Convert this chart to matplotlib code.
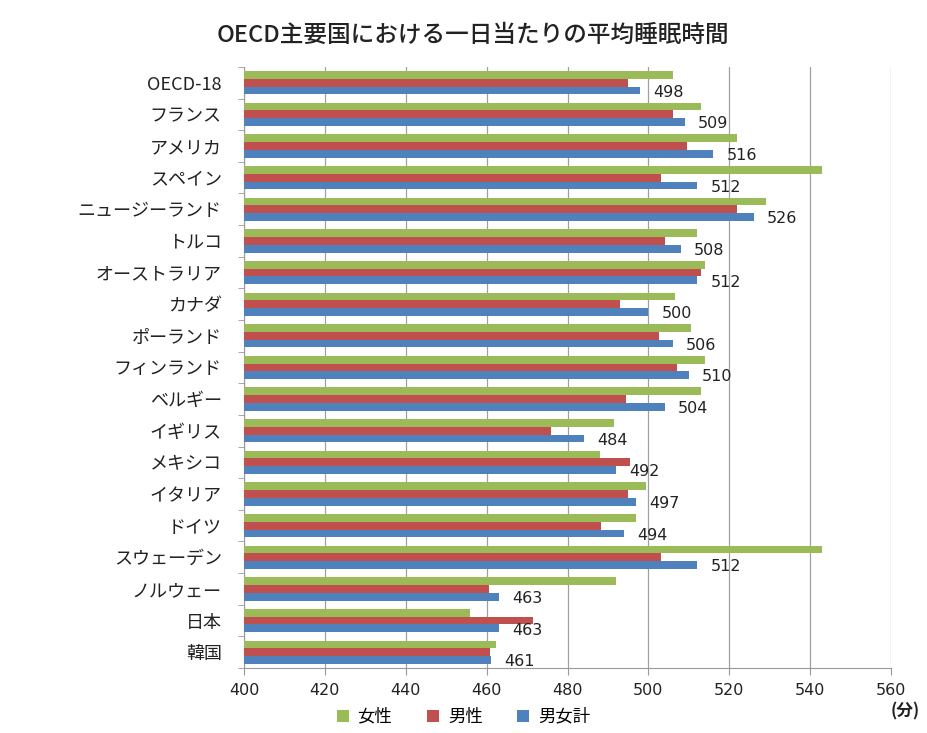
import matplotlib.pyplot as plt
import numpy as np

plt.rcParams['font.family'] = ['Noto Sans CJK JP', 'DejaVu Sans']

countries = [
    "OECD-18", "フランス", "アメリカ", "スペイン", "ニュージーランド", "トルコ",
    "オーストラリア", "カナダ", "ポーランド", "フィンランド", "ベルギー", "イギリス",
    "メキシコ", "イタリア", "ドイツ", "スウェーデン", "ノルウェー", "日本", "韓国",
]
female = [506, 513, 522, 543, 529, 512, 514, 506.5, 510.5, 514, 513, 491.5,
          488, 499.5, 497, 543, 492, 456, 462.3]
male = [495, 506, 509.5, 503, 522, 504, 513, 493, 502.5, 507, 494.5, 476,
        495.5, 495, 488.2, 503, 460.6, 471.5, 460.8]
total = [498, 509, 516, 512, 526, 508, 512, 500, 506, 510, 504, 484,
         492, 497, 494, 512, 463, 463, 461]

series_names = ["女性", "男性", "男女計"]
colors = ["#9BBB59", "#C0504D", "#4F81BD"]
xticks = [400, 420, 440, 460, 480, 500, 520, 540, 560]

fig = plt.figure(figsize=(9.27, 7.33), dpi=100)
ax = fig.add_axes([0.2632, 0.0887, 0.698, 0.820])

y = np.arange(len(countries))
h = 0.245
base = 400
for vals, off, col, name in zip([female, male, total], [-h, 0, h], colors, series_names):
    widths = np.array(vals) - base
    ax.barh(y + off, widths, left=base, height=h, color=col, label=name, zorder=3)

for yi, v in zip(y, total):
    ax.text(v + 3.3, yi + 0.3, f"{v}", va="center", ha="left", family="DejaVu Sans",
            fontsize=11.5, color="#222222", zorder=4)

ax.set_xlim(400, 560)
ax.set_ylim(len(countries) - 0.5, -0.5)
ax.set_xticks(xticks)
ax.set_xticklabels([str(t) for t in xticks], fontsize=11.5, color="#222222",
                   family="DejaVu Sans")
ax.tick_params(axis="x", direction="out", length=5, color="#999999", pad=6)

ax.set_yticks(y)
ax.set_yticklabels(countries, fontsize=13, color="#222222")
ax.tick_params(axis="y", length=0, pad=16)
ax.set_yticks(np.arange(-0.5, len(countries), 1.0), minor=True)
ax.tick_params(axis="y", which="minor", length=4, color="#999999")

ax.grid(axis="x", color="#a0a0a0", linewidth=0.9, zorder=0)
ax.set_axisbelow(True)
for side in ["top", "right"]:
    ax.spines[side].set_visible(False)
for side in ["left", "bottom"]:
    ax.spines[side].set_color("#999999")

fig.text(0.51, 0.952, "OECD主要国における一日当たりの平均睡眠時間",
         ha="center", va="center", fontsize=17, fontweight="medium", color="#222222")
fig.text(0.976, 0.029, "(分)", ha="center", va="center", fontsize=12,
         fontweight="bold", color="#222222")

fig.legend(loc="center", bbox_to_anchor=(0.50, 0.022), ncol=3, frameon=False,
           fontsize=12.5, handlelength=0.7, handleheight=0.7, handletextpad=0.5,
           columnspacing=2.0)

fig.savefig("out.png", dpi=100)
